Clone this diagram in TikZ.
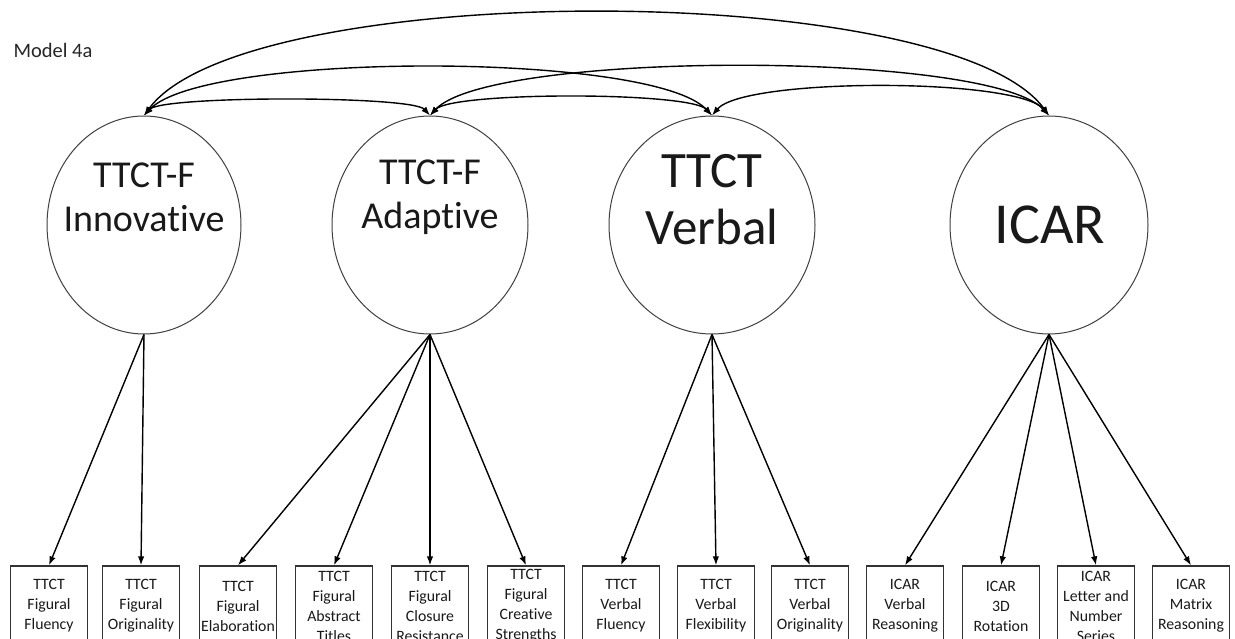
\documentclass[tikz,border=0pt]{standalone}
\usepackage{fontspec}
\setmainfont{Carlito}[Ligatures={NoCommon}]
\usetikzlibrary{shapes.geometric,arrows.meta}
\begin{document}
\begin{tikzpicture}[x=1pt,y=-1pt,
  latent/.style={ellipse,draw=black!75,line width=1pt,inner sep=0pt},
  obs/.style={rectangle,draw=black!80,line width=1.3pt,minimum width=77pt,minimum height=80pt,inner sep=0pt,align=center,text=black!90,font=\fontsize{15.8}{20}\selectfont},
  load/.style={-{Latex[length=9pt,width=6.5pt]},line width=1.4pt},
  cov/.style={{Latex[length=9pt,width=6.5pt]}-{Latex[length=9pt,width=6.5pt]},line width=1.4pt},
  lattext/.style={align=center,text=black!90}]
\clip (0,0) rectangle (1235,639);
\fill[white] (0,0) rectangle (1235,639);

\node[anchor=west,text=black!85,font=\fontsize{20.5}{24}\selectfont] (title) at (10,50) {Model 4a};

% latent variables
\node[latent,minimum width=194pt,minimum height=218pt] (e1) at (144,225) {};
\node[latent,minimum width=196pt,minimum height=218pt] (e2) at (430,225) {};
\node[latent,minimum width=206pt,minimum height=218pt] (e3) at (712,225) {};
\node[latent,minimum width=198pt,minimum height=218pt] (e4) at (1049,225) {};

\node[lattext,font=\fontsize{38}{44}\selectfont] (t1) at (144,197) {TTCT-F\\Innovative};
\node[lattext,font=\fontsize{38}{44}\selectfont] (t2) at (430,197) {TTCT-F\\Adaptive};
\node[lattext,font=\fontsize{51}{57}\selectfont] (t3) at (712,200) {TTCT\\Verbal};
\node[lattext,font=\fontsize{58}{62}\selectfont] (t4) at (1050,225) {ICAR};

% observed variables
\node[obs] (b1) at (49,606) {TTCT\\Figural\\Fluency};
\node[obs] (b2) at (141,606) {TTCT\\Figural\\Originality};
\node[obs] (b3) at (238,606) {TTCT\\Figural\\Elaboration};
\node[obs] (b4) at (334,606) {TTCT\\Figural\\Abstract\\Titles};
\node[obs] (b5) at (430,606) {TTCT\\Figural\\Closure\\Resistance};
\node[obs] (b6) at (526,606) {TTCT\\Figural\\Creative\\Strengths};
\node[obs] (b7) at (621,606) {TTCT\\Verbal\\Fluency};
\node[obs] (b8) at (716,606) {TTCT\\Verbal\\Flexibility};
\node[obs] (b9) at (810,606) {TTCT\\Verbal\\Originality};
\node[obs] (b10) at (905,606) {ICAR\\Verbal\\Reasoning};
\node[obs] (b11) at (1001,606) {ICAR\\3D\\Rotation};
\node[obs] (b12) at (1096,606) {ICAR\\Letter and\\Number\\Series};
\node[obs] (b13) at (1191,606) {ICAR\\Matrix\\Reasoning};

% loadings
\draw[load] (e1.south) -- (b1.north);
\draw[load] (e1.south) -- (b2.north);
\draw[load] (e2.south) -- (b3.north);
\draw[load] (e2.south) -- (b4.north);
\draw[load] (e2.south) -- (b5.north);
\draw[load] (e2.south) -- (b6.north);
\draw[load] (e3.south) -- (b7.north);
\draw[load] (e3.south) -- (b8.north);
\draw[load] (e3.south) -- (b9.north);
\draw[load] (e4.south) -- (b10.north);
\draw[load] (e4.south) -- (b11.north);
\draw[load] (e4.south) -- (b12.north);
\draw[load] (e4.south) -- (b13.north);

% covariances
\draw[cov] (e1.north) .. controls +(18,-20) and +(-18,-20) .. (e2.north);
\draw[cov] (e2.north) .. controls +(22,-24) and +(-22,-24) .. (e3.north);
\draw[cov] (e3.north) .. controls +(32,-38) and +(-32,-38) .. (e4.north);
\draw[cov] (e1.north) .. controls +(60,-64) and +(-60,-64) .. (e3.north);
\draw[cov] (e2.north) .. controls +(60,-65) and +(-60,-65) .. (e4.north);
\draw[cov] (e1.north) .. controls +(100,-137) and +(-100,-137) .. (e4.north);
\end{tikzpicture}
\end{document}
